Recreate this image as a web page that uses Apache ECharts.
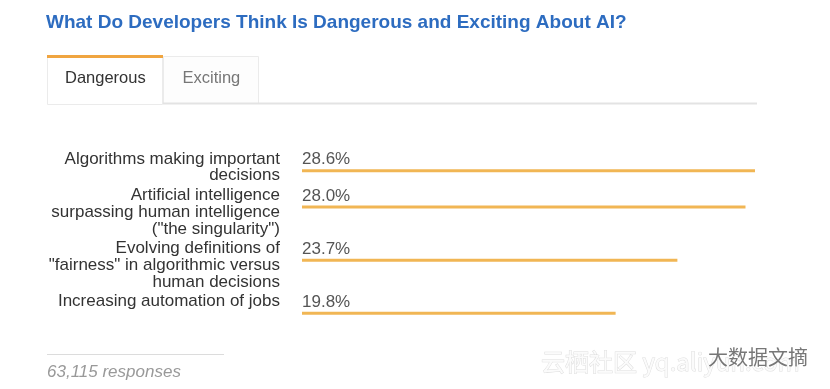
<!DOCTYPE html>
<html>
<head>
<meta charset="utf-8">
<script src="https://cdn.jsdelivr.net/npm/echarts@6/dist/echarts.min.js"></script>
<style>html,body{margin:0;padding:0;background:#fff;}#c{width:830px;height:389px;}</style>
</head>
<body>
<div id="c"></div>
<script>
const titleText = 'What Do Developers Think Is Dangerous and Exciting About AI?';
const tabs = ['Dangerous', 'Exciting'];
const categories = [
  'Algorithms making important\ndecisions',
  'Artificial intelligence\nsurpassing human intelligence\n("the singularity")',
  'Evolving definitions of\n"fairness" in algorithmic versus\nhuman decisions',
  'Increasing automation of jobs'
];
const values = [28.6, 28.0, 23.7, 19.8];
const footerText = '63,115 responses';

const FONT = '"Liberation Sans", Arial, Helvetica, sans-serif';
const LINE = 16.7;
const maxV = Math.max(...values);

const centers = [];
let yc = 170.7;
categories.forEach(c => { centers.push(yc); yc += c.split('\n').length * LINE + 3; });

const grid = [], xAxis = [], yAxis = [], series = [];
categories.forEach((c, i) => {
  grid.push({ left: 302, right: 75, top: centers[i] - 10, height: 20 });
  xAxis.push({ gridIndex: i, type: 'value', min: 0, max: maxV, show: false });
  yAxis.push({
    gridIndex: i, type: 'category', data: [c],
    axisLine: { show: false }, axisTick: { show: false }, splitLine: { show: false },
    axisLabel: {
      margin: 22, align: 'right', verticalAlign: 'top', lineHeight: LINE,
      padding: [-20, 0, 0, 0], fontSize: 17, color: '#333', fontFamily: FONT
    }
  });
  series.push({
    type: 'bar', xAxisIndex: i, yAxisIndex: i, data: [values[i]], barWidth: 3,
    silent: true, animation: false,
    itemStyle: { color: '#f1b654' },
    label: {
      show: true, position: [0, -18], align: 'left', verticalAlign: 'top',
      formatter: p => p.value.toFixed(1) + '%',
      fontSize: 17, color: '#555', fontFamily: FONT
    }
  });
});

const chart = echarts.init(document.getElementById('c'), null, { renderer: 'canvas' });
chart.setOption({
  animation: false,
  backgroundColor: '#fff',
  title: {
    text: titleText, left: 41, top: 8,
    textStyle: { fontSize: 19, fontWeight: 'bold', color: '#2d6cc0', fontFamily: FONT }
  },
  grid, xAxis, yAxis, series,
  graphic: [
    { type: 'rect', shape: { x: 163.5, y: 56.5, width: 95, height: 47 }, style: { fill: '#fdfdfd', stroke: '#ebebeb', lineWidth: 1 } },
    { type: 'line', shape: { x1: 163, y1: 103.5, x2: 757, y2: 103.5 }, style: { stroke: '#e3e3e3', lineWidth: 2 } },
    { type: 'rect', shape: { x: 47.5, y: 55.5, width: 115, height: 49 }, style: { fill: '#fff', stroke: '#ebebeb', lineWidth: 1 } },
    { type: 'rect', shape: { x: 47, y: 55, width: 116, height: 3 }, style: { fill: '#f0a540' } },
    { type: 'text', x: 65, y: 78, style: { text: tabs[0], fill: '#333', font: '16.5px ' + FONT, textVerticalAlign: 'middle' } },
    { type: 'text', x: 182.5, y: 78, style: { text: tabs[1], fill: '#777', font: '16.5px ' + FONT, textVerticalAlign: 'middle' } },
    { type: 'line', shape: { x1: 47, y1: 354.5, x2: 224, y2: 354.5 }, style: { stroke: '#dcdcdc', lineWidth: 1 } },
    { type: 'text', x: 47, y: 372.5, style: { text: footerText, fill: '#999', font: 'italic 17px ' + FONT, textVerticalAlign: 'middle' } },
    { type: 'text', x: 541, y: 362, style: { text: '云栖社区 yq.aliyun.com', fill: '#fbfbfb', stroke: '#dedede', lineWidth: 1, font: '24px "Noto Sans CJK SC", sans-serif', textVerticalAlign: 'middle' } },
    { type: 'text', x: 708, y: 357, style: { text: '大数据文摘', fill: '#777', stroke: '#fff', lineWidth: 1, font: '20px "Noto Sans CJK SC", sans-serif', textVerticalAlign: 'middle' } }
  ]
});
</script>
</body>
</html>
